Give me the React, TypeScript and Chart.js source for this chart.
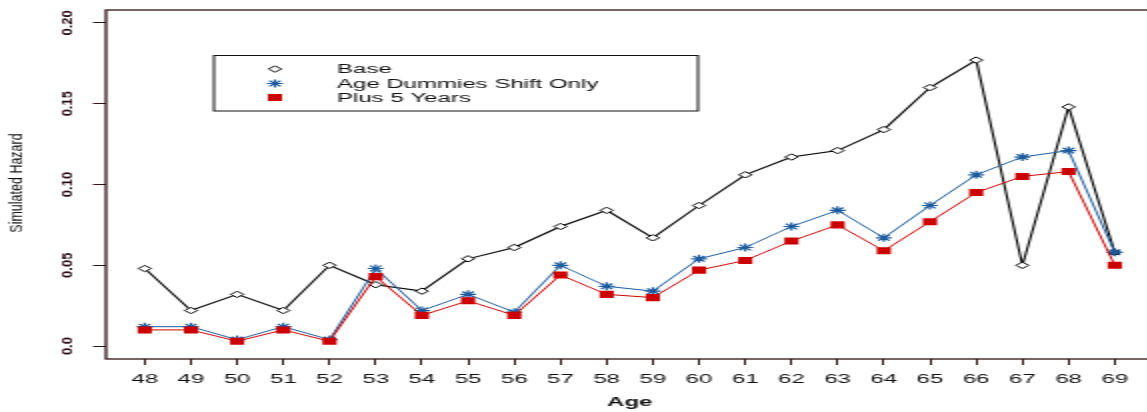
import React, { useEffect, useRef } from 'react';
import { Chart, registerables } from 'chart.js';

Chart.register(...registerables);

// ---- data ----
const ages = [48, 49, 50, 51, 52, 53, 54, 55, 56, 57, 58, 59, 60, 61, 62, 63, 64, 65, 66, 67, 68, 69];
const baseHazard = [0.048, 0.022, 0.032, 0.022, 0.050, 0.038, 0.034, 0.054, 0.061, 0.074, 0.084, 0.067, 0.087, 0.106, 0.117, 0.121, 0.134, 0.160, 0.177, 0.050, 0.148, 0.058];
const ageDummiesShift = [0.012, 0.012, 0.004, 0.012, 0.004, 0.048, 0.022, 0.032, 0.021, 0.050, 0.037, 0.034, 0.054, 0.061, 0.074, 0.084, 0.067, 0.087, 0.106, 0.117, 0.121, 0.058];
const plus5Years = [0.010, 0.010, 0.003, 0.010, 0.003, 0.043, 0.019, 0.028, 0.019, 0.044, 0.032, 0.030, 0.047, 0.053, 0.065, 0.075, 0.059, 0.077, 0.095, 0.105, 0.108, 0.050];
const yTicks = [0, 0.05, 0.1, 0.15, 0.2];
const yTickLabels = ['0.0', '0.05', '0.10', '0.15', '0.20'];
const seriesLabels = ['Base', 'Age Dummies Shift Only', 'Plus 5 Years'];
const xTitle = 'Age';
const yTitle = 'Simulated Hazard';

const BLUE = '#1c5b9c';
const RED = '#cc0000';
const AXIS = '#2e1414';
const TEXT = '#111111';
const YTEXT = '#2a0c16';
const FONT = '"Liberation Sans", Arial, Helvetica, sans-serif';

const toPoints = (vals: number[]) => ages.map((a, i) => ({ x: a, y: vals[i] }));

function drawDiamond(ctx: CanvasRenderingContext2D, x: number, y: number, r: number) {
  ctx.beginPath();
  ctx.moveTo(x - r, y);
  ctx.lineTo(x, y - r);
  ctx.lineTo(x + r, y);
  ctx.lineTo(x, y + r);
  ctx.closePath();
  ctx.fillStyle = '#ffffff';
  ctx.fill();
  ctx.strokeStyle = '#000000';
  ctx.lineWidth = 1;
  ctx.stroke();
}

function drawStar(ctx: CanvasRenderingContext2D, x: number, y: number, r: number) {
  ctx.beginPath();
  ctx.moveTo(x - r, y); ctx.lineTo(x + r, y);
  ctx.moveTo(x, y - r); ctx.lineTo(x, y + r);
  const d = r * Math.SQRT1_2;
  ctx.moveTo(x - d, y - d); ctx.lineTo(x + d, y + d);
  ctx.moveTo(x - d, y + d); ctx.lineTo(x + d, y - d);
  ctx.strokeStyle = BLUE;
  ctx.lineWidth = 1.2;
  ctx.stroke();
}

function drawSquare(ctx: CanvasRenderingContext2D, x: number, y: number, r: number) {
  const s = Math.SQRT1_2 * r;
  ctx.fillStyle = RED;
  ctx.fillRect(x - s, y - s, 2 * s, 2 * s);
}

const customPlugin = {
  id: 'customDecor',
  afterDraw(chart: any) {
    const { ctx, chartArea: a, scales } = chart;
    ctx.save();
    // plot box
    ctx.strokeStyle = AXIS;
    ctx.lineWidth = 1.3;
    ctx.strokeRect(a.left, a.top, a.right - a.left, a.bottom - a.top);

    // y tick labels (rotated, read bottom to top)
    const ys = scales.y;
    ctx.fillStyle = YTEXT;
    ctx.font = `bold 13px ${FONT}`;
    ctx.textAlign = 'center';
    ctx.textBaseline = 'middle';
    ys.ticks.forEach((t: any) => {
      const py = ys.getPixelForValue(t.value);
      const idx = yTicks.indexOf(t.value);
      const label = idx >= 0 ? yTickLabels[idx] : String(t.value);
      ctx.save();
      ctx.translate(33.8, py);
      ctx.scale(0.5, 1);
      ctx.rotate(-Math.PI / 2);
      ctx.fillText(label, 0, 0);
      ctx.restore();
    });

    // y title
    ctx.save();
    ctx.fillStyle = TEXT;
    ctx.font = `12.5px ${FONT}`;
    ctx.translate(8.85, (a.top + a.bottom) / 2 - 1.5);
    ctx.scale(0.65, 1);
    ctx.rotate(-Math.PI / 2);
    ctx.fillText(yTitle, 0, 0);
    ctx.restore();

    // legend box
    const lx0 = 107, lx1 = 349, ly0 = 55.5, ly1 = 111;
    ctx.fillStyle = '#ffffff';
    ctx.fillRect(lx0, ly0, lx1 - lx0, ly1 - ly0);
    ctx.strokeStyle = '#111111';
    ctx.lineWidth = 1;
    ctx.strokeRect(lx0, ly0, lx1 - lx0, ly1 - ly0);
    const textY = [70, 84.5, 99];
    const symY = [69, 83.5, 97.5];
    const symX = 137.5;
    drawDiamond(ctx, symX, symY[0], 3.2);
    drawStar(ctx, symX, symY[1], 4);
    drawSquare(ctx, symX, symY[2], 5);
    ctx.fillStyle = TEXT;
    ctx.font = `12px ${FONT}`;
    ctx.textAlign = 'left';
    ctx.textBaseline = 'middle';
    seriesLabels.forEach((s, i) => ctx.fillText(s, 168.5, textY[i]));
    ctx.restore();
  },
};

export default function App() {
  const canvasRef = useRef<HTMLCanvasElement | null>(null);

  useEffect(() => {
    const canvas = canvasRef.current;
    if (!canvas) return;
    const chart = new Chart(canvas, {
      type: 'line',
      data: {
        datasets: [
          {
            label: seriesLabels[0],
            data: toPoints(baseHazard),
            borderColor: '#000000',
            borderWidth: 1.1,
            pointStyle: 'rectRot',
            pointRadius: 3.2,
            pointBackgroundColor: '#ffffff',
            pointBorderColor: '#000000',
            pointBorderWidth: 1,
            tension: 0,
            order: 2,
          },
          {
            label: seriesLabels[1],
            data: toPoints(ageDummiesShift),
            borderColor: BLUE,
            borderWidth: 1,
            pointStyle: 'star',
            pointRadius: 4,
            pointBackgroundColor: BLUE,
            pointBorderColor: BLUE,
            pointBorderWidth: 1.2,
            tension: 0,
            order: 1,
          },
          {
            label: seriesLabels[2],
            data: toPoints(plus5Years),
            borderColor: RED,
            borderWidth: 1,
            pointStyle: 'rect',
            pointRadius: 5,
            pointBackgroundColor: RED,
            pointBorderColor: RED,
            pointBorderWidth: 0,
            tension: 0,
            order: 0,
          },
        ],
      },
      options: {
        responsive: false,
        animation: false,
        events: [],
        layout: { padding: { top: 10, right: 2.5, left: 0, bottom: 0 } },
        plugins: { legend: { display: false }, tooltip: { enabled: false } },
        scales: {
          x: {
            type: 'linear',
            min: 47.16,
            max: 69.84,
            afterBuildTicks: (s: any) => { s.ticks = ages.map((v) => ({ value: v })); },
            afterFit: (s: any) => { s.height = 53; },
            grid: { drawOnChartArea: false, drawTicks: true, tickLength: 6, color: AXIS, lineWidth: 1 },
            border: { display: false },
            ticks: {
              font: { family: FONT, size: 12 },
              color: TEXT,
              padding: 7,
              autoSkip: false,
              maxRotation: 0,
              minRotation: 0,
              callback: (v: any) => String(v),
            },
            title: {
              display: true,
              text: xTitle,
              font: { family: FONT, size: 12, weight: 'bold' },
              color: TEXT,
              padding: { top: 0, bottom: 2.3 },
            },
          },
          y: {
            type: 'linear',
            min: -0.008,
            max: 0.208,
            afterBuildTicks: (s: any) => { s.ticks = yTicks.map((v) => ({ value: v })); },
            afterFit: (s: any) => { s.width = 53; },
            grid: { drawOnChartArea: false, drawTicks: true, tickLength: 6.5, color: AXIS, lineWidth: 1 },
            border: { display: false },
            ticks: { display: false },
            title: { display: false },
          },
        },
      },
      plugins: [customPlugin],
    } as any);
    return () => chart.destroy();
  }, []);

  return (
    <div
      style={{
        position: 'fixed',
        left: 0,
        top: 0,
        width: 1147,
        height: 412,
        overflow: 'hidden',
        background: '#ffffff',
      }}
    >
      <canvas
        ref={canvasRef}
        width={582}
        height={412}
        style={{ width: '1164px', height: '412px', display: 'block' }}
      />
    </div>
  );
}
